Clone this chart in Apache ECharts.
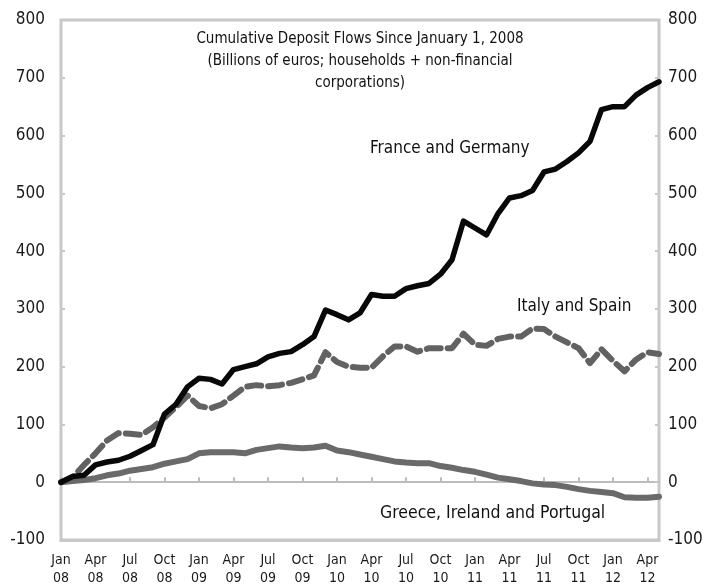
<!DOCTYPE html>
<html style="height: 100%">
  <head>
    <meta charset="UTF-8" />
    <title>Cumulative Deposit Flows</title>
    <script src="https://cdn.jsdelivr.net/npm/echarts@6/dist/echarts.min.js"></script>
  </head>
  <body style="height: 100%; margin: 0; background: #fff">
    <div id="main" style="width: 705px; height: 585px"></div>
    <script>
      // monthly, Jan 2008 .. May 2012
      var months = [];
      var monthNames = ['Jan', 'Feb', 'Mar', 'Apr', 'May', 'Jun', 'Jul', 'Aug', 'Sep', 'Oct', 'Nov', 'Dec'];
      for (var y = 8; y <= 12; y++) {
        for (var m = 0; m < 12; m++) {
          if (y === 12 && m > 4) break;
          months.push(monthNames[m] + '\n' + (y < 10 ? '0' + y : '' + y));
        }
      }

      var franceGermany = [
        0, 10, 12, 30, 35, 38, 45, 55, 65, 118, 135, 165,
        180, 178, 170, 195, 200, 205, 217, 223, 226, 238, 252, 298,
        290, 281, 293, 325, 322, 322, 335, 340, 344, 360, 385, 452,
        440, 428, 465, 492, 496, 505, 537, 542, 555, 570, 590, 645,
        650, 650, 670, 683, 693
      ];
      var italySpain = [
        0, 8, 30, 50, 72, 85, 84, 82, 95, 112, 130, 150,
        132, 128, 135, 150, 165, 168, 166, 168, 172, 178, 185, 225,
        208, 200, 198, 198, 218, 235, 235, 226, 232, 232, 232, 257,
        238, 236, 248, 252, 252, 266, 265, 252, 242, 232, 206, 230,
        210, 192, 212, 225, 222
      ];
      var greeceIrelandPortugal = [
        0, 2, 4, 7, 12, 15, 20, 23, 26, 32, 36, 40,
        50, 52, 52, 52, 50, 56, 59, 62, 60, 59, 60, 63,
        55, 52, 48, 44, 40, 36, 34, 33, 33, 28, 25, 21,
        18, 13, 8, 5, 2, -2, -4, -5, -8, -12, -15, -17,
        -19, -26, -27, -27, -25
      ];

      var FONT = "'DejaVu Sans Condensed', sans-serif";

      var chart = echarts.init(document.getElementById('main'));

      var yAxisBase = {
        type: 'value',
        min: -100,
        max: 800,
        interval: 100,
        splitLine: { show: false },
        axisLine: { show: false },
        axisTick: { show: true, inside: true, length: 4, lineStyle: { color: '#c8c8c8', width: 2 } },
        axisLabel: { color: '#1a1a1a', fontSize: 17, fontFamily: FONT }
      };

      var option = {
        animation: false,
        backgroundColor: '#fff',
        grid: {
          left: 61, right: 46, top: 20, bottom: 45,
          outerBoundsMode: 'none',
          show: true,
          borderColor: '#c8c8c8',
          borderWidth: 3
        },
        xAxis: [
          {
            // labels along the bottom of the frame
            type: 'category',
            data: months,
            boundaryGap: false,
            position: 'bottom',
            axisLine: { show: true, onZero: false, lineStyle: { color: '#c8c8c8', width: 3 } },
            axisTick: { show: false },
            axisLabel: {
              interval: 2,
              margin: 11,
              color: '#1a1a1a',
              fontSize: 14,
              lineHeight: 18,
              fontFamily: FONT
            }
          },
          {
            // zero line with small ticks
            type: 'category',
            data: months,
            boundaryGap: false,
            position: 'bottom',
            axisLine: { onZero: true, lineStyle: { color: '#bdbdbd', width: 2 } },
            axisTick: {
              inside: true, length: 5, interval: 2,
              lineStyle: { color: '#bdbdbd', width: 2 }
            },
            axisLabel: { show: false }
          }
        ],
        yAxis: [
          Object.assign({}, yAxisBase, { position: 'left', axisLabel: Object.assign({}, yAxisBase.axisLabel, { margin: 16 }) }),
          Object.assign({}, yAxisBase, { position: 'right', axisLabel: Object.assign({}, yAxisBase.axisLabel, { margin: 9 }) })
        ],
        series: [
          {
            name: 'Greece, Ireland and Portugal',
            type: 'line',
            data: greeceIrelandPortugal,
            showSymbol: false,
            lineStyle: { color: '#6a6a6a', width: 6, cap: 'round', join: 'round' }
          },
          {
            name: 'Italy and Spain',
            type: 'line',
            data: italySpain,
            showSymbol: false,
            lineStyle: { color: '#626262', width: 6, type: [14, 7], cap: 'round', join: 'round' }
          },
          {
            name: 'France and Germany',
            type: 'line',
            data: franceGermany,
            showSymbol: false,
            lineStyle: { color: '#080808', width: 5.5, join: 'round', cap: 'round' }
          }
        ],
        graphic: [
          {
            type: 'text', x: 360, y: 28,
            style: {
              text: 'Cumulative Deposit Flows Since January 1, 2008\n(Billions of euros; households + non-financial\ncorporations)',
              align: 'center', fill: '#111', font: '15px ' + FONT, lineHeight: 22
            }
          },
          {
            type: 'text', x: 370, y: 140,
            style: { text: 'France and Germany', fill: '#111', font: '17px ' + FONT }
          },
          {
            type: 'text', x: 517, y: 298,
            style: { text: 'Italy and Spain', fill: '#111', font: '17px ' + FONT }
          },
          {
            type: 'text', x: 380, y: 504,
            style: { text: 'Greece, Ireland and Portugal', fill: '#111', font: '17.5px ' + FONT }
          }
        ]
      };

      chart.setOption(option);
    </script>
  </body>
</html>
